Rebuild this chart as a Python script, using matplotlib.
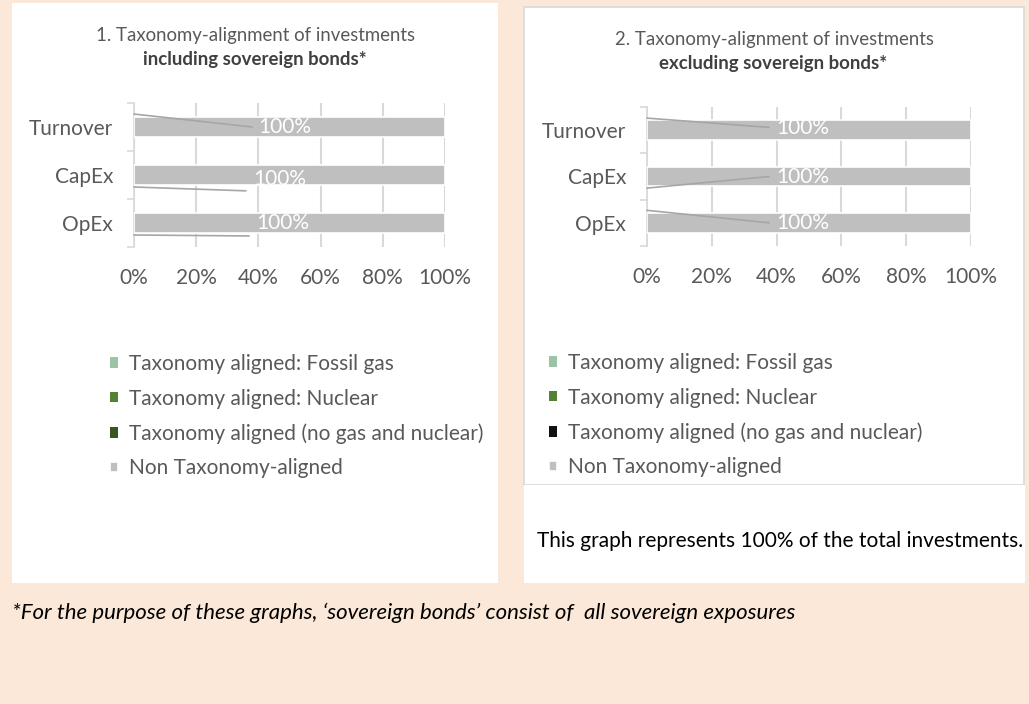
#!/usr/bin/env python3
"""Taxonomy-alignment of investments, with and without sovereign bonds."""

import matplotlib

matplotlib.use("Agg")
import matplotlib.pyplot as plt
from matplotlib.patches import Rectangle

plt.rcParams["font.family"] = ["Lato", "DejaVu Sans"]

# data
categories = ["Turnover", "CapEx", "OpEx"]
series_names = [
    "Taxonomy aligned: Fossil gas",
    "Taxonomy aligned: Nuclear",
    "Taxonomy aligned (no gas and nuclear)",
    "Non Taxonomy-aligned",
]
incl_fossil_gas = [0, 0, 0]
incl_nuclear = [0, 0, 0]
incl_aligned = [0, 0, 0]
incl_non_aligned = [100, 100, 100]
excl_fossil_gas = [0, 0, 0]
excl_nuclear = [0, 0, 0]
excl_aligned = [0, 0, 0]
excl_non_aligned = [100, 100, 100]
x_ticks = [0, 20, 40, 60, 80, 100]

W, H = 1029, 704
BG = "#FBE8D8"
TXT = "#595959"
GRID = "#D9D9D9"
BAR_GRAY = "#BFBFBF"
LEADER = "#A6A6A6"
FS = 15


def fx(px):
    return px / W


def fy(py):
    return 1 - py / H


def draw_panel(fig, rect, values, colors, title1, title2, title_y, leaders, label_pos, legend_xy):
    ax = fig.add_axes(rect)
    ax.set_facecolor("none")
    ypos = list(range(len(categories)))
    left = [0] * len(categories)
    containers = []
    for vals, col, name in zip(values, colors, series_names):
        c = ax.barh(ypos, vals, left=left, height=0.42, color=col,
                    edgecolor="white", linewidth=0 if max(vals) == 0 else 1.2,
                    label=name, zorder=3)
        containers.append(c)
        left = [a + b for a, b in zip(left, vals)]

    # data labels of the visible series
    last = values[-1]
    for i, v in enumerate(last):
        lx, dy = label_pos[i]
        ax.text(lx, i + dy, f"{v}%", color="white", fontsize=FS,
                ha="center", va="center", zorder=5)

    # leader lines of the hidden zero-value labels
    for i, (y0, x1, y1) in enumerate(leaders):
        ax.annotate("", xy=(0, i + y0), xytext=(x1, i + y1),
                    arrowprops=dict(arrowstyle="-", color=LEADER, lw=1.2,
                                    shrinkA=0, shrinkB=0), zorder=4)

    ax.set_xlim(0, 100)
    ax.set_ylim(len(categories) - 0.5, -0.5)
    ax.set_xticks(x_ticks)
    ax.set_xticklabels([f"{t}%" for t in x_ticks])
    ax.set_yticks(ypos)
    ax.set_yticklabels(categories)
    ax.set_yticks([-0.5, 0.5, 1.5, 2.5], minor=True)
    ax.tick_params(axis="x", length=0, pad=15, labelsize=FS, labelcolor=TXT)
    ax.tick_params(axis="y", which="major", length=0, pad=15, labelsize=FS, labelcolor=TXT)
    ax.tick_params(axis="y", which="minor", length=5, width=1.2, color=GRID)
    ax.grid(axis="x", color=GRID, lw=1.5, zorder=0)
    ax.set_axisbelow(True)
    for s in ["top", "right", "bottom"]:
        ax.spines[s].set_visible(False)
    ax.spines["left"].set_color(GRID)
    ax.spines["left"].set_linewidth(1.2)

    fig.text(title1[1], fy(title_y[0]), title1[0], ha="center", va="center",
             fontsize=13.4, color=TXT)
    fig.text(title2[1], fy(title_y[1]), title2[0], ha="center", va="center",
             fontsize=13.4, color="#404040", fontweight="bold")

    fig.legend(handles=containers, labels=series_names, loc="upper left",
               bbox_to_anchor=legend_xy, frameon=False, fontsize=FS,
               labelcolor=TXT, handlelength=0.4, handleheight=0.4,
               handletextpad=0.5, labelspacing=0.7, borderaxespad=0,
               borderpad=0)
    return ax


fig = plt.figure(figsize=(W / 100, H / 100), dpi=100, facecolor=BG)

# white panel backgrounds
fig.patches.append(Rectangle((fx(12), fy(583)), fx(486), 580 / H, transform=fig.transFigure,
                             facecolor="white", edgecolor="none", zorder=-2))
fig.patches.append(Rectangle((fx(524), fy(485)), fx(500), 478 / H, transform=fig.transFigure,
                             facecolor="white", edgecolor=GRID, lw=1.2, zorder=-2))
fig.patches.append(Rectangle((fx(524), fy(583)), fx(501), 98 / H, transform=fig.transFigure,
                             facecolor="white", edgecolor="none", zorder=-2))

colors_left = ["#9DC3A6", "#548235", "#375623", BAR_GRAY]
colors_right = ["#9DC3A6", "#548235", "#111111", BAR_GRAY]

draw_panel(
    fig, [fx(134), fy(247), fx(311), 144 / H],
    [incl_fossil_gas, incl_nuclear, incl_aligned, incl_non_aligned], colors_left,
    ("1. Taxonomy-alignment of investments", fx(255)),
    ("including sovereign bonds*", fx(255)),
    (35, 60),
    [(-0.27, 38, 0.0), (0.25, 36, 0.33), (0.25, 37, 0.27)],
    [(48.5, 0.0), (46.8, 0.08), (47.7, 0.0)],
    (fx(110), fy(354)),
)
draw_panel(
    fig, [fx(647), fy(246), fx(324), 139 / H],
    [excl_fossil_gas, excl_nuclear, excl_aligned, excl_non_aligned], colors_right,
    ("2. Taxonomy-alignment of investments", fx(774)),
    ("excluding sovereign bonds*", fx(773)),
    (39, 63),
    [(-0.26, 37.7, -0.06), (0.25, 37.7, 0.0), (-0.27, 37.7, 0.0)],
    [(48.1, -0.04), (48.1, 0.01), (48.1, 0.0)],
    (fx(549), fy(353)),
)

fig.text(fx(537), fy(541), "This graph represents 100% of the total investments.",
         ha="left", va="center", fontsize=15, color="black")
fig.text(fx(12), fy(613),
         "*For the purpose of these graphs, \u2018sovereign bonds\u2019 consist of  all sovereign exposures",
         ha="left", va="center", fontsize=16, color="black", style="italic")

fig.savefig("out.png", dpi=100, facecolor=BG)
